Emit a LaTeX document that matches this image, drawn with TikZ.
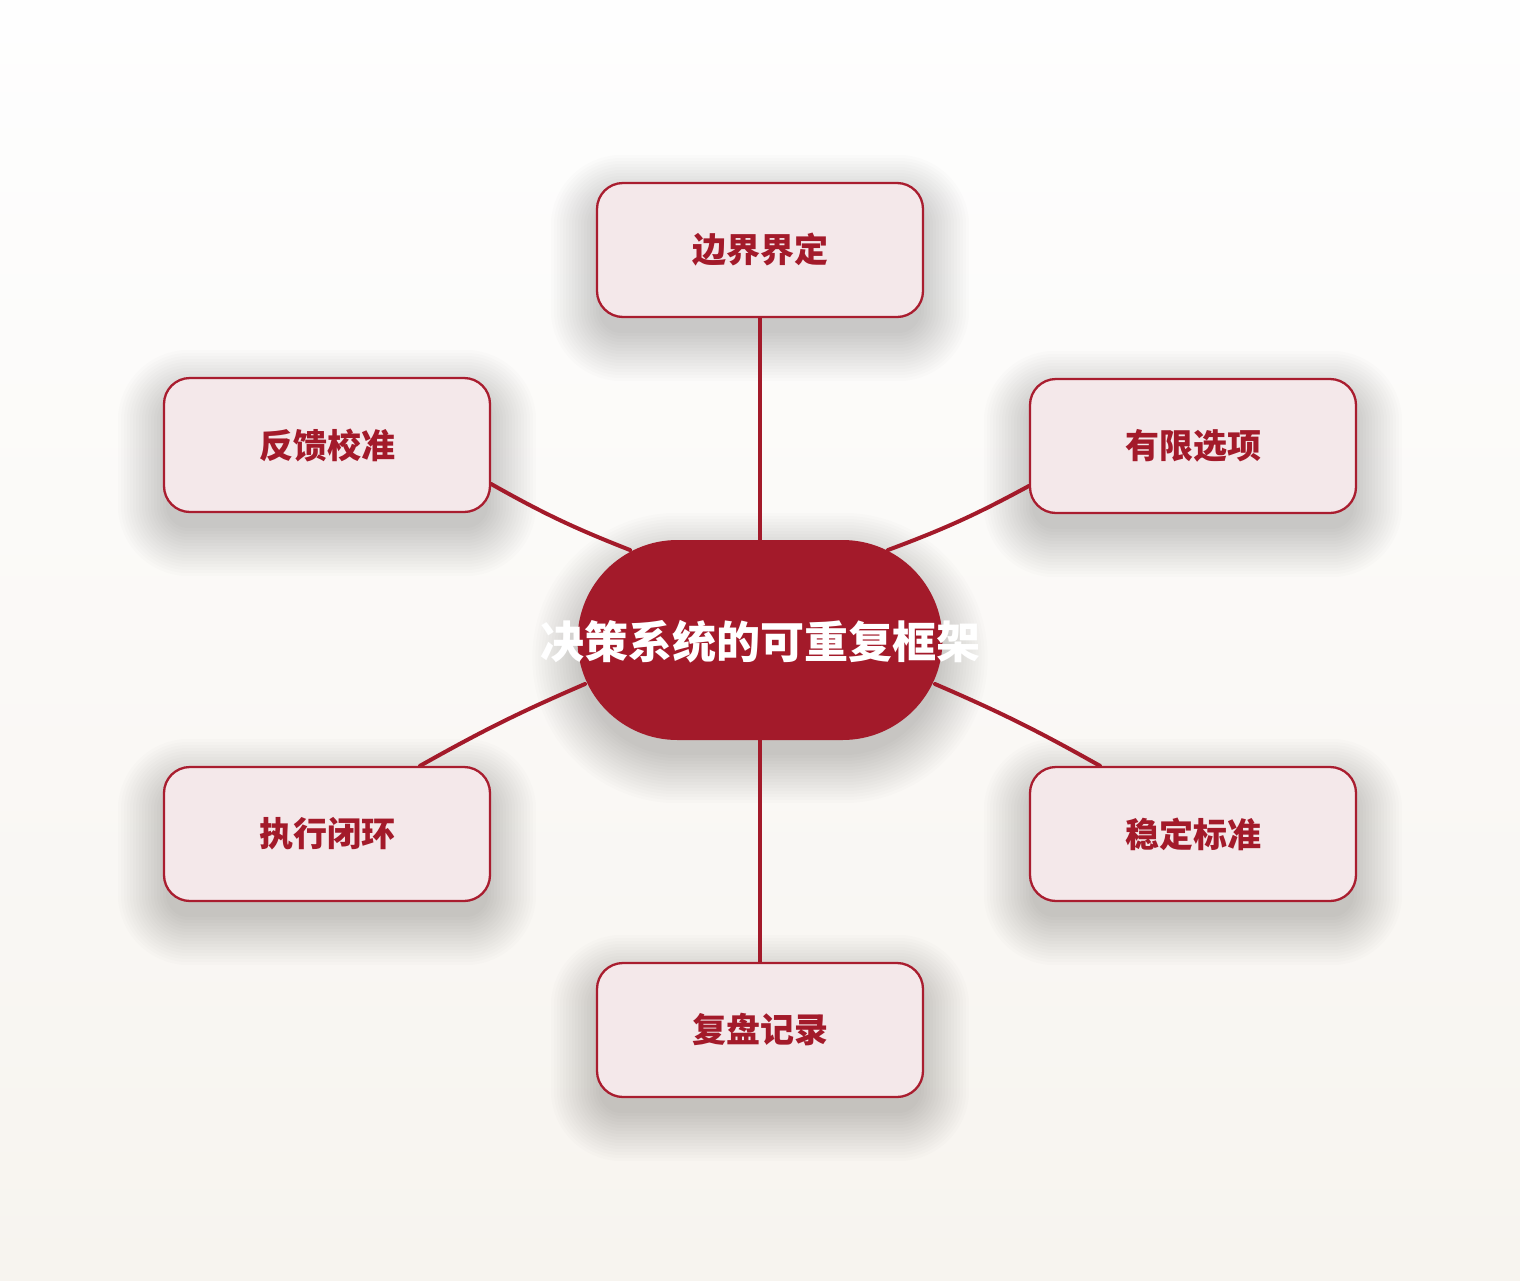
\documentclass[tikz,border=0pt]{standalone}
\usepackage{fontspec}
\setmainfont{Noto Sans CJK SC}
\usetikzlibrary{calc}
\definecolor{bgtop}{HTML}{FEFEFE}
\definecolor{bgbot}{HTML}{F7F4EF}
\definecolor{deepred}{HTML}{A31A2A}
\definecolor{boxfill}{HTML}{F4E8EA}
\definecolor{boxline}{HTML}{A91D2F}
\pgfdeclarelayer{back}
\pgfdeclarelayer{shadowlayer}
\pgfdeclarelayer{edges}
\pgfsetlayers{back,shadowlayer,edges,main}
\tikzset{
  leaf/.style={draw=boxline, line width=2.3pt, fill=boxfill, rounded corners=26pt,
    minimum width=326pt, minimum height=134pt, inner sep=0pt,
    text=deepred, font=\fontsize{34pt}{40pt}\selectfont\bfseries},
  hub/.style={fill=deepred, rounded corners=100pt, minimum width=365pt, minimum height=200pt,
    inner sep=0pt},
  hubtext/.style={text=white, font=\fontsize{44pt}{50pt}\selectfont\bfseries},
  link/.style={draw=deepred, line width=4pt, line cap=round},
  shadowpiece/.style={fill=black, opacity=0.010}
}
% soft shadow: #1 node name, #2 corner radius
\newcommand{\softshade}[2]{%
  \foreach \d in {-3,0,3,...,45}{%
    \pgfmathsetmacro{\rr}{max(#2+\d,1)}%
    \fill[shadowpiece, rounded corners=\rr pt]
      ($(#1.south west)+(-\d,\d+18)$) rectangle ($(#1.north east)+(\d,-\d+18)$);
  }%
}
\begin{document}
\begin{tikzpicture}[x=1pt,y=-1pt]
\begin{pgfonlayer}{back}
\shade[top color=bgtop, bottom color=bgbot] (0,0) rectangle (1520,1280);
\end{pgfonlayer}
\useasboundingbox (0,0) rectangle (1520,1280);
\node[hub] (c) at (760,640) {};
\node[hubtext] (ct) at (760,642) {决策系统的可重复框架};
\node[leaf] (t) at (760,250) {边界界定};
\node[leaf] (lt) at (327,445) {反馈校准};
\node[leaf] (rt) at (1193,446) {有限选项};
\node[leaf] (lb) at (327,834) {执行闭环};
\node[leaf] (rb) at (1193,834) {稳定标准};
\node[leaf] (b) at (760,1030) {复盘记录};
\begin{pgfonlayer}{shadowlayer}
\softshade{c}{100}
\softshade{t}{26}
\softshade{lt}{26}
\softshade{rt}{26}
\softshade{lb}{26}
\softshade{rb}{26}
\softshade{b}{26}
\end{pgfonlayer}
\begin{pgfonlayer}{edges}
\draw[link] (t.south) -- (c.center);
\draw[link] (b.north) -- (c.center);
\draw[link] ($(lt.east)+(0,39)$) to[bend right=4] ($(c.center)+(-130,-90)$);
\draw[link] ($(rt.west)+(0,40)$) to[bend left=4] ($(c.center)+(128,-90)$);
\draw[link] ($(lb.north)+(93,0)$) to[bend left=3] ($(c.center)+(-175,44)$);
\draw[link] ($(rb.north)+(-93,0)$) to[bend right=3] ($(c.center)+(175,44)$);
\end{pgfonlayer}
\end{tikzpicture}
\end{document}
